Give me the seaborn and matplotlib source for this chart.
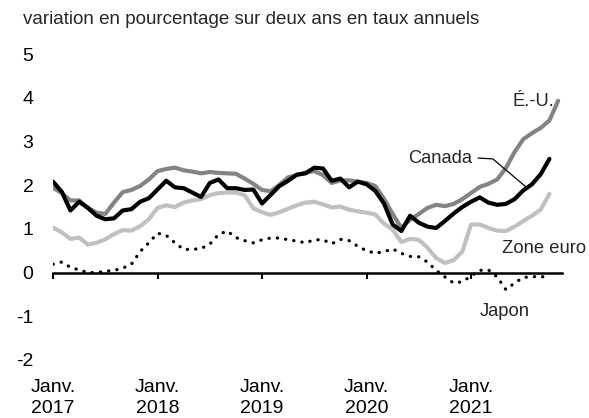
import matplotlib.pyplot as plt
import numpy as np
import pandas as pd
import seaborn as sns

# valeurs mensuelles, janv. 2017 -> oct./nov. 2021
CANADA = [
    2.08, 1.85, 1.42, 1.62, 1.48, 1.30, 1.22, 1.24, 1.42, 1.45, 1.62, 1.70,
    1.90, 2.10, 1.95, 1.93, 1.83, 1.73, 2.05, 2.13, 1.93, 1.93, 1.89, 1.90,
    1.58, 1.78, 1.98, 2.10, 2.24, 2.27, 2.40, 2.38, 2.10, 2.15, 1.95, 2.08,
    2.02, 1.87, 1.58, 1.10, 0.95, 1.30, 1.14, 1.05, 1.02, 1.18, 1.35, 1.50,
    1.62, 1.72, 1.60, 1.55, 1.57, 1.68, 1.88, 2.02, 2.25, 2.60,
]
ETATS_UNIS = [
    1.94, 1.82, 1.65, 1.65, 1.48, 1.37, 1.34, 1.60, 1.84, 1.89, 1.98, 2.13,
    2.32, 2.37, 2.40, 2.34, 2.31, 2.27, 2.30, 2.28, 2.27, 2.26, 2.15, 2.03,
    1.89, 1.86, 2.01, 2.18, 2.23, 2.29, 2.32, 2.23, 2.05, 2.11, 2.11, 2.08,
    2.05, 1.98, 1.69, 1.34, 1.02, 1.21, 1.34, 1.48, 1.55, 1.52, 1.57, 1.68,
    1.82, 1.96, 2.03, 2.13, 2.39, 2.76, 3.05, 3.19, 3.31, 3.48, 3.93,
]
ZONE_EURO = [
    1.03, 0.92, 0.77, 0.80, 0.64, 0.68, 0.76, 0.88, 0.97, 0.96, 1.06, 1.22,
    1.48, 1.54, 1.50, 1.60, 1.65, 1.68, 1.77, 1.82, 1.83, 1.83, 1.77, 1.47,
    1.38, 1.32, 1.38, 1.46, 1.54, 1.60, 1.62, 1.56, 1.49, 1.51, 1.44, 1.40,
    1.37, 1.33, 1.12, 0.98, 0.70, 0.77, 0.75, 0.57, 0.33, 0.22, 0.28, 0.48,
    1.10, 1.10, 1.02, 0.96, 0.95, 1.05, 1.18, 1.30, 1.44, 1.80,
]
JAPON = [
    0.19, 0.24, 0.12, 0.06, 0.00, 0.00, 0.03, 0.05, 0.10, 0.19, 0.48, 0.68,
    0.90, 0.85, 0.68, 0.53, 0.53, 0.55, 0.65, 0.87, 0.95, 0.80, 0.73, 0.68,
    0.75, 0.79, 0.79, 0.75, 0.72, 0.68, 0.75, 0.75, 0.66, 0.76, 0.73, 0.60,
    0.50, 0.44, 0.48, 0.54, 0.44, 0.37, 0.36, 0.24, 0.05, -0.10, -0.24, -0.21,
    -0.08, 0.05, 0.06, -0.10, -0.39, -0.24, -0.11, -0.10, -0.08, -0.15,
]

TICK_MONTHS = [0, 12, 24, 36, 48]
TICK_LABELS = ["Janv.\n2017", "Janv.\n2018", "Janv.\n2019", "Janv.\n2020", "Janv.\n2021"]
Y_TICKS = [-2, -1, 0, 1, 2, 3, 4, 5]


def series_frame(values: list) -> pd.DataFrame:
    return pd.DataFrame({"mois": np.arange(len(values)), "valeur": values})


sns.set_theme(style="white")
plt.rcParams["font.family"] = ["Liberation Sans", "DejaVu Sans"]

fig = plt.figure(figsize=(5.89, 4.18), dpi=100)
ax = fig.add_axes([0.09, 0.1388, 0.865, 0.732])

sns.lineplot(data=series_frame(ZONE_EURO), x="mois", y="valeur", color="#c0c0c0", linewidth=3, ax=ax)
sns.lineplot(data=series_frame(ETATS_UNIS), x="mois", y="valeur", color="#848484", linewidth=3, ax=ax)
sns.lineplot(data=series_frame(CANADA), x="mois", y="valeur", color="black", linewidth=3, ax=ax)
sns.lineplot(
    data=series_frame(JAPON), x="mois", y="valeur", color="black", linewidth=2.3,
    linestyle=(0, (0.1, 2.5)), dash_capstyle="round", ax=ax,
)

ax.set_xlim(0, 58.5)
ax.set_ylim(-2, 5)
ax.set_xlabel("")
ax.set_ylabel("")

for side in ["left", "right", "top"]:
    ax.spines[side].set_visible(False)
ax.spines["bottom"].set_position(("data", 0))
ax.spines["bottom"].set_color("black")
ax.spines["bottom"].set_linewidth(1.8)
ax.spines["bottom"].set_zorder(1)

ax.set_xticks(TICK_MONTHS)
ax.tick_params(axis="x", direction="out", length=4, width=1.5, color="black",
               bottom=True, labelbottom=False)
ax.set_yticks(Y_TICKS)
ax.set_yticklabels([str(v) for v in Y_TICKS])
ax.tick_params(axis="y", length=0, pad=14, labelsize=14, labelcolor="black")

secax = ax.secondary_xaxis(0)
secax.set_xticks(TICK_MONTHS)
secax.set_xticklabels(TICK_LABELS, linespacing=1.3)
secax.tick_params(length=0, pad=14, labelsize=14, labelcolor="black")
secax.spines["bottom"].set_visible(False)

ax.text(55.1, 3.92, "É.-U.", fontsize=13.2, ha="center", va="center")
ax.text(44.5, 2.62, "Canada", fontsize=13.2, ha="center", va="center")
ax.plot([48.8, 50.5, 54.3], [2.62, 2.6, 1.96], color="black", linewidth=0.9)
ax.text(56.4, 0.56, "Zone euro", fontsize=13.2, ha="center", va="center")
ax.text(51.9, -0.9, "Japon", fontsize=13.2, ha="center", va="center")

fig.text(23 / 589, 1 - 24 / 418, "variation en pourcentage sur deux ans en taux annuels",
         fontsize=13.5, ha="left", va="baseline")

fig.savefig("out.png", dpi=100)
plt.close(fig)
